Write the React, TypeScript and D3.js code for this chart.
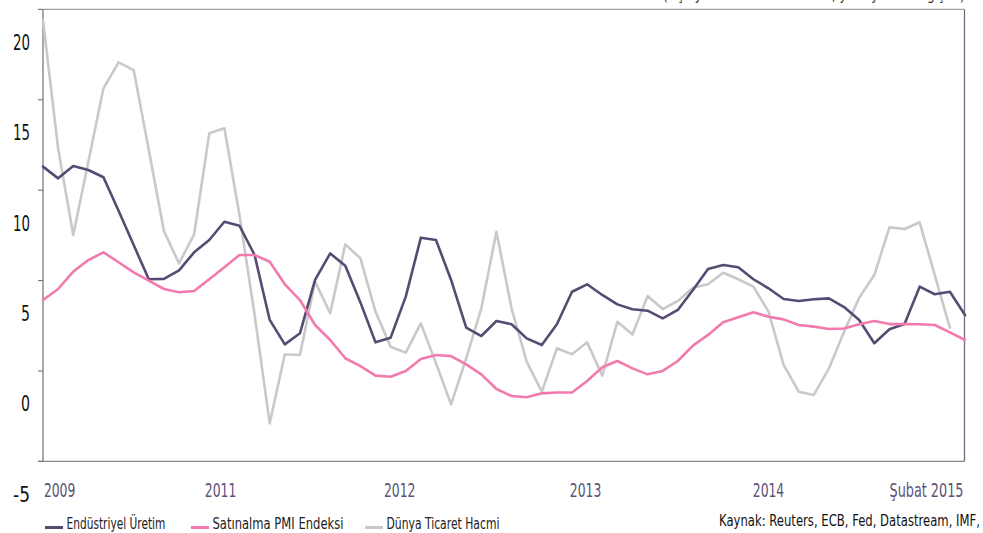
import React, { useLayoutEffect, useRef, useState } from "react";
import * as d3 from "d3";

const months: number[] = d3.range(62);

const industrial: number[] = [
  13.13, 12.48, 13.16, 12.94, 12.54, 10.69, 8.79, 6.9, 6.92, 7.39, 8.39, 9.07, 10.08, 9.86, 8.24, 4.65,
  3.3, 3.91, 6.86, 8.33, 7.65, 5.62, 3.41, 3.67, 5.94, 9.2, 9.07, 6.86, 4.22, 3.76, 4.59, 4.41,
  3.63, 3.26, 4.41, 6.21, 6.62, 6.03, 5.51, 5.24, 5.16, 4.74, 5.2, 6.31, 7.47, 7.69, 7.56, 6.9,
  6.4, 5.81, 5.7, 5.79, 5.84, 5.36, 4.65, 3.36, 4.13, 4.42, 6.49, 6.07, 6.21, 4.92,
];

const pmi: number[] = [
  5.75, 6.36, 7.32, 7.96, 8.39, 7.84, 7.28, 6.82, 6.36, 6.18, 6.25, 6.9, 7.56, 8.24, 8.24, 7.87,
  6.62, 5.75, 4.37, 3.54, 2.53, 2.1, 1.57, 1.51, 1.83, 2.49, 2.71, 2.65, 2.19, 1.64, 0.83, 0.44,
  0.37, 0.59, 0.64, 0.64, 1.27, 2.03, 2.38, 1.97, 1.64, 1.83, 2.38, 3.23, 3.82, 4.52, 4.8, 5.07,
  4.83, 4.68, 4.37, 4.28, 4.15, 4.18, 4.41, 4.59, 4.42, 4.42, 4.41, 4.37, 3.96, 3.54,
];

const worldTrade: (number | null)[] = [
  21.24, 14.14, 9.35, 13.4, 17.46, 18.9, 18.47, 14.05, 9.57, 7.78, 9.38, 14.97, 15.25, 10.45, 4.92, -1.07,
  2.75, 2.71, 6.77, 5.02, 8.83, 8.06, 5.11, 3.17, 2.84, 4.46, 2.25, -0.02, 2.53, 5.29, 9.53, 5.29,
  2.34, 0.68, 3.08, 2.75, 3.41, 1.57, 4.55, 3.85, 5.97, 5.25, 5.7, 6.43, 6.62, 7.26, 6.9, 6.49,
  5.11, 2.16, 0.68, 0.5, 1.97, 4.0, 5.88, 7.13, 9.77, 9.68, 10.05, 7.13, 4.22, null,
];

const yTickValues: number[] = [20, 15, 10, 5, 0, -5];
const xTickLabels: string[] = ["2009", "2011", "2012", "2013", "2014", "Şubat 2015"];
const xTickIndex: number[] = [1.1, 11.75, 23.6, 35.9, 48, 60.9];

const seriesNames: string[] = ["Endüstriyel Üretim", "Satınalma PMI Endeksi", "Dünya Ticaret Hacmi"];
const seriesColors: string[] = ["#584b73", "#f27aae", "#c9c9c9"];

const FONT = "'Liberation Sans Narrow', 'DejaVu Sans Condensed', 'DejaVu Sans', sans-serif";

type FitProps = {
  x: number;
  y: number;
  width: number;
  anchor?: "start" | "middle" | "end";
  dy?: string;
  fontSize: number;
  fill: string;
  children: string;
};

function FitText({ x, y, width, anchor = "start", dy, fontSize, fill, children }: FitProps) {
  const ref = useRef<SVGTextElement>(null);
  const [s, setS] = useState(1);
  useLayoutEffect(() => {
    if (ref.current) {
      const w = ref.current.getComputedTextLength();
      if (w > 0) setS(width / w);
    }
  }, [width, children, fontSize]);
  const x0 = anchor === "end" ? x - width : anchor === "middle" ? x - width / 2 : x;
  return (
    <text ref={ref} transform={`translate(${x0},${y}) scale(${s},1)`} x={0} y={0} dy={dy} fontSize={fontSize} fill={fill}>
      {children}
    </text>
  );
}

export default function App() {
  const width = 983;
  const height = 533;
  const x = d3.scaleLinear().domain([0, 61]).range([43, 965]);
  const y = d3.scaleLinear().domain([-5, 20]).range([494.4, 42.4]);
  const tickShift = -33;
  const top = y(20) + tickShift;
  const bottom = y(-5) + tickShift;
  const left = 43;
  const right = 964.5;

  const line = d3
    .line<number | null>()
    .defined((d) => d !== null)
    .x((_, i) => x(months[i]))
    .y((d) => y(d as number));

  const series = [industrial, pmi, worldTrade];
  const drawOrder = [2, 0, 1];

  const legendX = [45, 191, 365];
  const legendLen = [99, 131, 113];

  const yLabelLen = (v: number) => (String(v).length === 2 ? 17 : 9);

  return (
    <svg
      width={width}
      height={height}
      style={{ position: "absolute", left: 0, top: 0, background: "#fff" }}
      fontFamily={FONT}
      fontStretch="condensed"
    >
      <FitText x={663} y={0} width={302} fontSize={16} fill="#333">
        (Üç aylık hareketli ortalama, yıllık yüzde değişim)
      </FitText>

      {/* frame */}
      <line x1={left} x2={right} y1={top} y2={top} stroke="#a0a0a0" strokeWidth={1.2} />
      <line x1={right} x2={right} y1={top} y2={bottom} stroke="#6e6a80" strokeWidth={1.3} />
      <line x1={38} x2={right} y1={bottom} y2={bottom} stroke="#8a8a8a" strokeWidth={1.3} />
      <line x1={left} x2={left} y1={top} y2={bottom} stroke="#7a7a7a" strokeWidth={1.3} />
      {yTickValues.map((v) => (
        <line key={"t" + v} x1={38} x2={left} y1={y(v) + tickShift} y2={y(v) + tickShift} stroke="#7a7a7a" strokeWidth={1.2} />
      ))}

      {/* y labels */}
      {yTickValues.map((v) => (
        <FitText key={"l" + v} x={30} y={y(v)} dy="0.36em" anchor="end" width={yLabelLen(v)} fontSize={20.5} fill="#111">
          {String(v)}
        </FitText>
      ))}

      {/* x labels */}
      {xTickLabels.map((t, i) => {
        const w = t.length > 4 ? 74 : 31.5;
        const last = i === xTickLabels.length - 1;
        return (
          <FitText
            key={t}
            x={x(xTickIndex[i])}
            y={497}
            anchor={last ? "end" : "middle"}
            width={w}
            fontSize={20}
            fill="#5d5379"
          >
            {t}
          </FitText>
        );
      })}

      {/* lines */}
      {drawOrder.map((s) => (
        <path
          key={"s" + s}
          d={line(series[s] as (number | null)[]) || ""}
          fill="none"
          stroke={seriesColors[s]}
          strokeWidth={2.6}
          strokeLinejoin="round"
          strokeLinecap="round"
        />
      ))}

      {/* legend */}
      {seriesNames.map((n, i) => (
        <g key={n}>
          <line x1={legendX[i]} x2={legendX[i] + 18} y1={527.5} y2={527.5} stroke={seriesColors[i]} strokeWidth={3} />
          <FitText x={legendX[i] + 21.5} y={528.5} width={legendLen[i]} fontSize={15} fill="#222">
            {n}
          </FitText>
        </g>
      ))}

      <FitText x={719} y={526} width={261} fontSize={16} fill="#111">
        Kaynak: Reuters, ECB, Fed, Datastream, IMF,
      </FitText>
    </svg>
  );
}
